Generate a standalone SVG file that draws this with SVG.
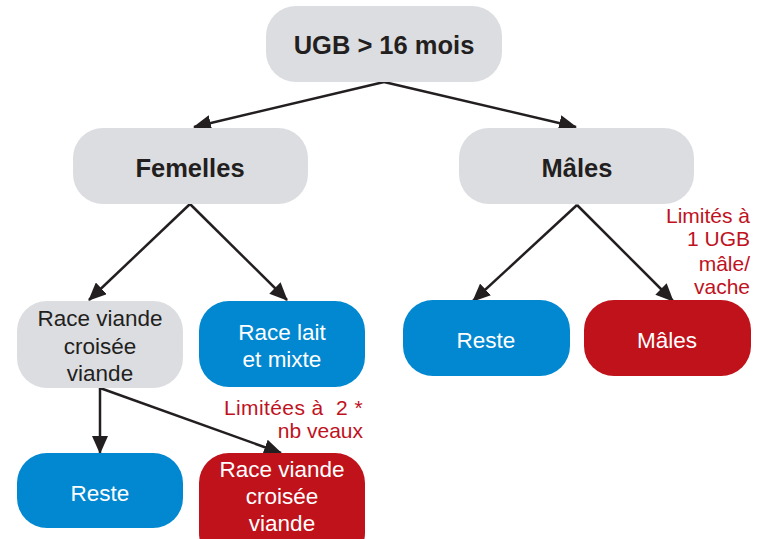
<svg xmlns="http://www.w3.org/2000/svg" width="773" height="539" viewBox="0 0 773 539">
<style>
.g{fill:#dcdde0}
.b{fill:#0288d0}
.r{fill:#c0121b}
.t{font-family:"Liberation Sans",Arial,sans-serif;font-size:22.5px;text-anchor:middle}
.tb{font-family:"Liberation Sans",Arial,sans-serif;font-size:25.5px;font-weight:bold;text-anchor:middle;fill:#231f20}
.dk{fill:#231f20}
.wh{fill:#ffffff}
.lab{font-family:"Liberation Sans",Arial,sans-serif;font-size:21px;text-anchor:end;fill:#c0121e}
.c{stroke:#231f20;stroke-width:2.5;fill:none;marker-end:url(#ah)}
</style>
<defs>
<marker id="ah" markerUnits="userSpaceOnUse" markerWidth="18" markerHeight="16" refX="17" refY="8" orient="auto">
<path d="M0,0 L18,8 L0,16 z" fill="#231f20"/>
</marker>
</defs>
<rect width="773" height="539" fill="#ffffff"/>
<g id="connectors">
<line class="c" x1="384" y1="82" x2="194" y2="127"/>
<line class="c" x1="384" y1="82" x2="576" y2="127"/>
<line class="c" x1="190" y1="204" x2="89" y2="300"/>
<line class="c" x1="190" y1="204" x2="287" y2="300"/>
<line class="c" x1="577" y1="205" x2="473" y2="301"/>
<line class="c" x1="577" y1="205" x2="673" y2="301"/>
<line class="c" x1="100" y1="388" x2="100" y2="453"/>
<line class="c" x1="100" y1="388" x2="281" y2="453"/>
</g>
<g id="n-ugb">
<rect class="g" x="266" y="6" width="236" height="76" rx="30"/>
<text class="tb" x="384" y="54">UGB &gt; 16 mois</text>
</g>
<g id="n-femelles">
<rect class="g" x="73" y="128" width="235" height="76" rx="30"/>
<text class="tb" x="190" y="177">Femelles</text>
</g>
<g id="n-males">
<rect class="g" x="459" y="128" width="235" height="76" rx="30"/>
<text class="tb" x="577" y="177">Mâles</text>
</g>
<g id="n-race-viande">
<rect class="g" x="17" y="301" width="166" height="87" rx="30"/>
<text class="t dk" x="100" y="326">Race viande</text>
<text class="t dk" x="100" y="354">croisée</text>
<text class="t dk" x="100" y="381">viande</text>
</g>
<g id="n-race-lait">
<rect class="b" x="199" y="301" width="166" height="86" rx="30"/>
<text class="t wh" x="282" y="340">Race lait</text>
<text class="t wh" x="282" y="367">et mixte</text>
</g>
<g id="n-reste-m">
<rect class="b" x="403" y="300" width="167" height="76" rx="30"/>
<text class="t wh" x="486" y="348">Reste</text>
</g>
<g id="n-males-red">
<rect class="r" x="584" y="300" width="167" height="76" rx="30"/>
<text class="t wh" x="667" y="348">Mâles</text>
</g>
<g id="n-reste-f">
<rect class="b" x="17" y="453" width="166" height="75" rx="30"/>
<text class="t wh" x="100" y="501">Reste</text>
</g>
<g id="n-race-viande-red">
<rect class="r" x="199" y="453" width="166" height="110" rx="30"/>
<text class="t wh" x="282" y="477">Race viande</text>
<text class="t wh" x="282" y="504">croisée</text>
<text class="t wh" x="282" y="531">viande</text>
</g>
<g id="labels">
<text class="lab" x="750" y="223">Limités à</text>
<text class="lab" x="750" y="246">1 UGB</text>
<text class="lab" x="750" y="271">mâle/</text>
<text class="lab" x="750" y="294">vache</text>
<text class="lab" x="363" y="415" xml:space="preserve" letter-spacing="0.4">Limitées à  2 *</text>
<text class="lab" x="363" y="438">nb veaux</text>
</g>
</svg>
